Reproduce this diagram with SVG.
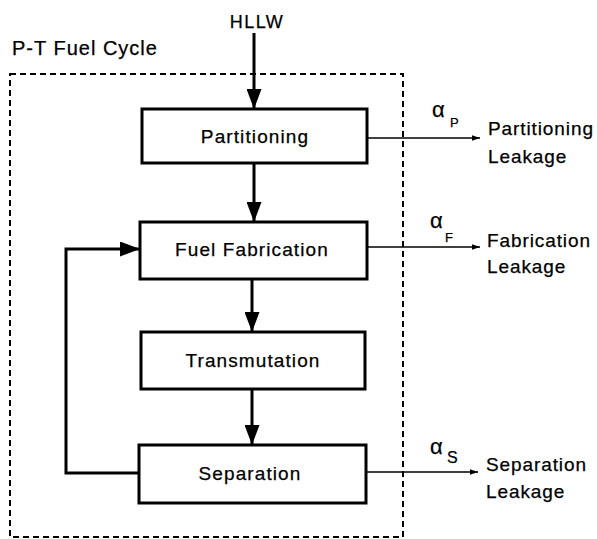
<svg xmlns="http://www.w3.org/2000/svg" width="597" height="539" viewBox="0 0 597 539">
<style>
text{font-family:"Liberation Sans",Arial,sans-serif;fill:#000;stroke:#000;stroke-width:0.25}
.box{fill:#fff;stroke:#000;stroke-width:3}
.lbl{font-size:19px;letter-spacing:1.1px;text-anchor:middle}
.out{font-size:19px;letter-spacing:0.9px}
.al{font-size:22px}
.sub{font-size:13px}
.flow{stroke:#000;stroke-width:3;fill:none}
.leak{stroke:#000;stroke-width:1.6;fill:none}
</style>
<defs>
<marker id="ah" viewBox="0 0 20 15" refX="20" refY="7.5" markerWidth="6.67" markerHeight="5" markerUnits="strokeWidth" orient="auto"><path d="M0,0L20,7.5L0,15z" fill="#000"/></marker>
<marker id="as" viewBox="0 0 10 10" refX="10" refY="5" markerWidth="7" markerHeight="5" markerUnits="strokeWidth" orient="auto"><path d="M0,1.5L10,5L0,8.5z" fill="#000"/></marker>
</defs>
<g id="boundary">
<rect x="10" y="74" width="393" height="463" fill="none" stroke="#000" stroke-width="2" stroke-dasharray="6,4"/>
<text x="12" y="55" style="font-size:20px;letter-spacing:1px">P-T Fuel Cycle</text>
</g>
<g id="connectors">
<path class="flow" d="M254,33V109" marker-end="url(#ah)"/>
<path class="flow" d="M254,163V222" marker-end="url(#ah)"/>
<path class="flow" d="M252,279V332" marker-end="url(#ah)"/>
<path class="flow" d="M252,389V445" marker-end="url(#ah)"/>
<path class="flow" d="M139,473H66V249H140" marker-end="url(#ah)"/>
<path class="leak" d="M367,138H480" marker-end="url(#as)"/>
<path class="leak" d="M367,247H480" marker-end="url(#as)"/>
<path class="leak" d="M366,472H478" marker-end="url(#as)"/>
</g>
<g id="hllw"><text x="257" y="28" style="font-size:18px;letter-spacing:1.5px;text-anchor:middle">HLLW</text></g>
<g id="partitioning">
<rect class="box" x="142" y="109" width="225" height="54"/>
<text class="lbl" x="255" y="143">Partitioning</text>
</g>
<g id="fuel-fabrication">
<rect class="box" x="140" y="222" width="227" height="57"/>
<text class="lbl" x="252" y="256">Fuel Fabrication</text>
</g>
<g id="transmutation">
<rect class="box" x="141" y="332" width="224" height="57"/>
<text class="lbl" x="253" y="367">Transmutation</text>
</g>
<g id="separation">
<rect class="box" x="139" y="445" width="227" height="58"/>
<text class="lbl" x="250" y="480">Separation</text>
</g>
<g id="partitioning-leakage">
<text class="al" x="432" y="117">α</text><text class="sub" x="450" y="127">P</text>
<text class="out" x="488" y="135">Partitioning</text>
<text class="out" x="488" y="163">Leakage</text>
</g>
<g id="fabrication-leakage">
<text class="al" x="430" y="228">α</text><text class="sub" x="445" y="242">F</text>
<text class="out" x="487" y="247">Fabrication</text>
<text class="out" x="487" y="273">Leakage</text>
</g>
<g id="separation-leakage">
<text class="al" x="430" y="454">α</text><text x="447" y="463" style="font-size:16px">S</text>
<text class="out" x="486" y="471">Separation</text>
<text class="out" x="486" y="498">Leakage</text>
</g>
</svg>
